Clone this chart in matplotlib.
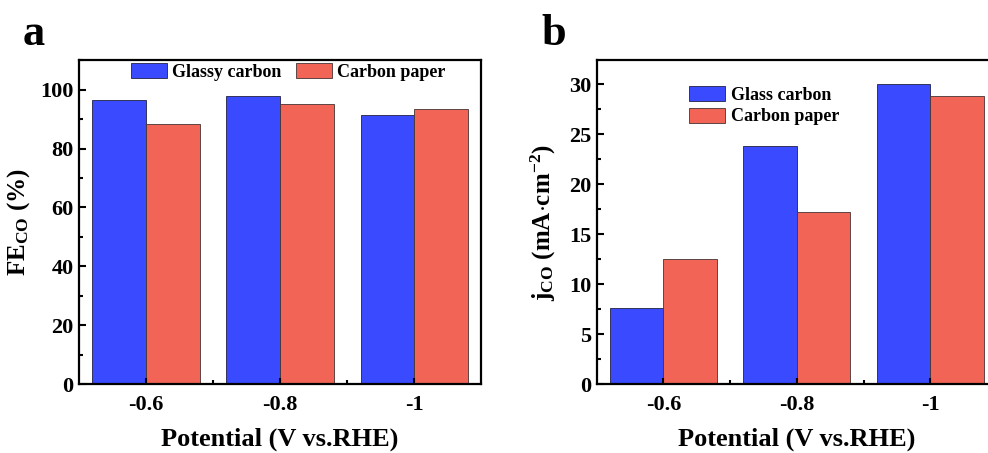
import numpy as np
import matplotlib
matplotlib.use('Agg')
import matplotlib.pyplot as plt
from matplotlib.ticker import MultipleLocator, FixedLocator

plt.rcParams['font.family'] = 'Liberation Serif'
plt.rcParams['font.weight'] = 'bold'
plt.rcParams['axes.labelweight'] = 'bold'
plt.rcParams['mathtext.fontset'] = 'custom'
plt.rcParams['mathtext.rm'] = 'Liberation Serif'
plt.rcParams['mathtext.it'] = 'Liberation Serif:italic'
plt.rcParams['mathtext.bf'] = 'Liberation Serif:bold'

potentials = ['-0.6', '-0.8', '-1']
fe_glassy = [96.6, 98.0, 91.4]
fe_paper = [88.3, 95.2, 93.5]
j_glass = [7.6, 23.8, 30.0]
j_paper = [12.5, 17.2, 28.8]

blue = '#3A4BFF'
red = '#F26455'

fig = plt.figure(figsize=(9.88, 4.53), dpi=100)
ax1 = fig.add_axes([0.080, 0.152, 0.407, 0.715])
ax2 = fig.add_axes([0.604, 0.152, 0.405, 0.715])

x = np.arange(1, len(potentials) + 1)
w = 0.4


def style(ax):
    ax.set_xlim(0.5, 3.5)
    ax.set_xticks(x)
    ax.set_xticklabels(potentials)
    ax.xaxis.set_minor_locator(FixedLocator([1.5, 2.5]))
    ax.tick_params(which='both', direction='in', width=1.5, labelsize=16, pad=4)
    ax.tick_params(which='major', length=5)
    ax.tick_params(which='minor', length=3)
    ax.tick_params(axis='x', which='major', length=4, pad=8)
    for s in ax.spines.values():
        s.set_linewidth(1.6)
    ax.set_axisbelow(False)
    ax.set_xlabel('Potential (V vs.RHE)', fontsize=19, labelpad=9)


# panel a
ax1.bar(x - w / 2, fe_glassy, w, color=blue, edgecolor='#222244', linewidth=0.6, label='Glassy carbon')
ax1.bar(x + w / 2, fe_paper, w, color=red, edgecolor='#443333', linewidth=0.6, label='Carbon paper')
style(ax1)
ax1.set_ylim(0, 110)
ax1.yaxis.set_major_locator(MultipleLocator(20))
ax1.yaxis.set_minor_locator(MultipleLocator(10))
ax1.set_ylabel(r'FE$_{\mathrm{CO}}$ (%)', fontsize=18, labelpad=6)
ax1.legend(loc='upper center', ncol=2, frameon=False, fontsize=13, handlelength=2.0,
           handleheight=0.9, columnspacing=0.8, handletextpad=0.3,
           bbox_to_anchor=(0.52, 1.03), borderaxespad=0.3)
fig.text(0.023, 0.90, 'a', fontsize=32, fontweight='bold')

# panel b
ax2.bar(x - w / 2, j_glass, w, color=blue, edgecolor='#222244', linewidth=0.6, label='Glass carbon')
ax2.bar(x + w / 2, j_paper, w, color=red, edgecolor='#443333', linewidth=0.6, label='Carbon paper')
style(ax2)
ax2.set_ylim(0, 32.4)
ax2.yaxis.set_major_locator(MultipleLocator(5))
ax2.yaxis.set_minor_locator(MultipleLocator(2.5))
ax2.set_ylabel(r'j$_{\mathrm{CO}}$ (mA$\cdot$cm$^{-2}$)', fontsize=18, labelpad=8)
ax2.legend(loc='upper left', frameon=False, fontsize=13, handlelength=2.0,
           handleheight=0.9, handletextpad=0.3, labelspacing=0.2,
           bbox_to_anchor=(0.19, 0.97))
fig.text(0.548, 0.90, 'b', fontsize=32, fontweight='bold')

fig.savefig('out.png', dpi=100)
